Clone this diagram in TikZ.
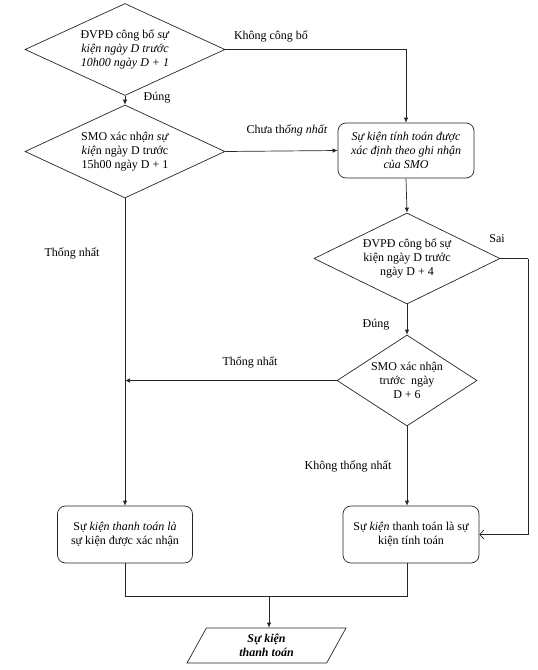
\documentclass[tikz,border=0pt]{standalone}
\usepackage{fontspec}
\setmainfont{Liberation Serif}
\usetikzlibrary{shapes.geometric,arrows.meta}
\begin{document}
\begin{tikzpicture}[x=1pt,y=-1pt,
  every node/.style={font=\fontsize{12}{14}\selectfont},
  line/.style={draw=black!85, line width=0.7pt},
  arr/.style={line, -{Latex[length=5pt,width=4.5pt]}},
  openarr/.style={line, -{Straight Barb[length=4pt,width=9pt]}},
  dec/.style={shape=diamond, draw=black!85, line width=0.7pt, inner sep=0pt, align=center},
  procbox/.style={rectangle, rounded corners=8pt, draw=black!85, line width=0.7pt, align=center, inner sep=0pt},
  iobox/.style={trapezium, trapezium left angle=49.4, trapezium right angle=130.6, trapezium stretches body, draw=black!85, line width=0.7pt, inner sep=0pt, align=center, font=\fontsize{12}{14}\selectfont\bfseries\itshape},
  lbl/.style={inner sep=0pt, anchor=center}
]
\useasboundingbox (0,0) rectangle (538,670);

\node[dec, aspect=2.17, minimum width=200pt, minimum height=92pt] (d1) at (125,49.5)
  {ĐVPĐ công bố \textit{sự}\\ \textit{kiện ngày D trước}\\ \textit{10h00 ngày D + 1}};
\node[dec, aspect=2.15, minimum width=200pt, minimum height=93pt] (d2) at (125,151.5)
  {SMO xác nh\textit{ận sự}\\ \textit{kiệ}n ngày D trước\\ 15h00 ngày D + 1};
\node[procbox, minimum width=136pt, minimum height=55pt] (b1) at (406,150.5)
  {\itshape Sự kiện tính toán được\\ \itshape xác định theo ghi nhận\\ \itshape của SMO};
\node[dec, aspect=2.04, minimum width=186pt, minimum height=91pt] (d3) at (407,258.5)
  {ĐVPĐ công bố sự\\ kiện ngày D trước\\ ngày D + 4};
\node[dec, aspect=1.54, minimum width=140pt, minimum height=91pt] (d4) at (407,380.5)
  {SMO xác nhận\\ trước~~ngày\\ D + 6};
\node[procbox, minimum width=135pt, minimum height=57pt] (b2) at (125,534.5)
  {Sự \textit{kiện thanh toán là}\\ sự kiện được xác nhận};
\node[procbox, minimum width=136pt, minimum height=57pt] (b3) at (411,534.5)
  {Sự \textit{kiện} thanh toán là sự\\ kiện tính toán};
\node[iobox, minimum width=159pt, minimum height=35pt] (out) at (266.5,645.5)
  {Sự kiện\\ thanh toán};

\coordinate (sai) at (528,258.5);
\coordinate (j) at (269,596);

\draw[arr] (d1.east) -| (b1.north);
\draw[arr] (d1.south) -- (d2.north);
\draw[arr] (d2.east) -- (b1.west);
\draw[arr] (b1.south) -- (d3.north);
\draw[arr] (d2.south) -- (b2.north);
\draw[line] (d3.east) -- (sai);
\draw[openarr] (sai) |- (b3.east);
\draw[arr] (d3.south) -- (d4.north);
\draw[arr] (d4.west) -- (d4.west -| d2.south);
\draw[arr] (d4.south) -- (d4.south |- b3.north);
\draw[line] (b2.south) |- (j);
\draw[line] (d4.south |- b3.south) |- (j);
\draw[arr] (j) -- (j |- out.north);

\node[lbl] (l1) at (271,36) {Không công bố};
\node[lbl] (l2) at (157,98) {Đúng};
\node[lbl] (l3) at (287,130) {Chưa th\textit{ống nhất}};
\node[lbl] (l4) at (72,253) {Thống nhất};
\node[lbl] (l5) at (497,239) {Sai};
\node[lbl] (l6) at (376,325) {Đúng};
\node[lbl] (l7) at (250,362) {Thống nhất};
\node[lbl] (l8) at (348,466) {Không thống nhất};
\end{tikzpicture}
\end{document}
